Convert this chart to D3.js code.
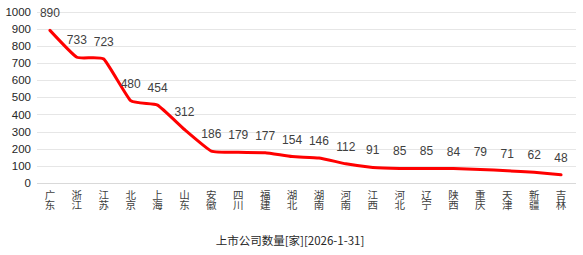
<!DOCTYPE html>
<html><head><meta charset="utf-8">
<script src="https://cdn.jsdelivr.net/npm/d3@7"></script>
<style>body{margin:0;background:#fff;} svg{display:block;}</style>
</head><body>
<svg id="c" width="583" height="255"></svg>
<script>
const categories = ["广东","浙江","江苏","北京","上海","山东","安徽","四川","福建","湖北","湖南","河南","江西","河北","辽宁","陕西","重庆","天津","新疆","吉林"];
const values = [890,733,723,480,454,312,186,179,177,154,146,112,91,85,85,84,79,71,62,48];
const yTicks = [0,100,200,300,400,500,600,700,800,900,1000];
const title = "上市公司数量[家][2026-1-31]";

const svg = d3.select("#c");
const font = "'Noto Sans CJK SC','Liberation Sans',sans-serif";
const x = d3.scaleBand().domain(categories).range([36.5, 574.5]);
const y = d3.scaleLinear().domain([0,1000]).range([183, 11.5]);

// gridlines
svg.append("g").selectAll("line").data(yTicks).join("line")
  .attr("x1", 37).attr("x2", 576)
  .attr("y1", d => Math.round(y(d))+0.5).attr("y2", d => Math.round(y(d))+0.5)
  .attr("stroke", d => d===0 ? "#d9d9d9" : "#e6e6e6").attr("stroke-width", 1);

// y axis labels
const yAxis = d3.axisLeft(y).tickValues(yTicks).tickFormat(d3.format("d")).tickSize(0).tickPadding(0);
const ya = svg.append("g").attr("transform","translate(31,0)").call(yAxis);
ya.select(".domain").remove();
ya.selectAll("text").attr("font-family","'Liberation Sans',Arial,sans-serif").attr("font-size",11.5).attr("fill","#262626");

// x labels (vertical text)
svg.append("g").selectAll("text").data(categories).join("text")
  .attr("x", d => x(d) + x.bandwidth()/2)
  .attr("y", 189.5)
  .style("writing-mode","vertical-rl")
  .style("text-orientation","upright")
  .attr("text-anchor","start")
  .attr("font-family", font).attr("font-size", 10.5).attr("fill","#404040")
  .text(d => d);

// line
const line = d3.line()
  .x((d,i) => x(categories[i]) + x.bandwidth()/2)
  .y(d => y(d))
  .curve(d3.curveCardinal.tension(0.6));
svg.append("path").datum(values).attr("d", line)
  .attr("fill","none").attr("stroke","#ff0000").attr("stroke-width",3)
  .attr("stroke-linejoin","round").attr("stroke-linecap","round");

// data labels
svg.append("g").selectAll("text").data(values).join("text")
  .attr("x", (d,i) => x(categories[i]) + x.bandwidth()/2)
  .attr("y", d => y(d) - 13)
  .attr("text-anchor","middle")
  .attr("font-family","'Liberation Sans',Arial,sans-serif").attr("font-size",12).attr("fill","#404040")
  .text(d => d);

// title
svg.append("text").attr("x", 290).attr("y", 245).attr("text-anchor","middle")
  .attr("font-family", font).attr("font-size", 11.5).attr("fill","#262626").text(title);
</script>
</body></html>
